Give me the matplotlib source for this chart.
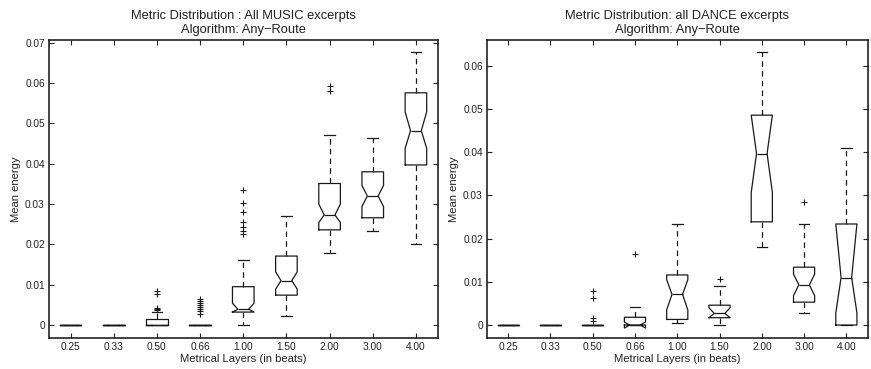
import matplotlib
matplotlib.use("Agg")
import matplotlib.pyplot as plt

plt.rcParams['font.family'] = ['Liberation Sans', 'DejaVu Sans']
plt.rcParams['lines.scale_dashes'] = False

labels = ['0.25', '0.33', '0.50', '0.66', '1.00', '1.50', '2.00', '3.00', '4.00']

# MUSIC excerpts
music_med = [0, 0, 0, 0, 0.0039, 0.0110, 0.0273, 0.0320, 0.0482]
music_q1 = [0, 0, 0, 0, 0.0032, 0.0074, 0.0236, 0.0266, 0.0397]
music_q3 = [0, 0, 0.0014, 0, 0.0095, 0.0171, 0.0351, 0.0380, 0.0576]
music_whislo = [0, 0, 0, 0, 0, 0.0022, 0.0178, 0.0233, 0.0201]
music_whishi = [0, 0, 0.0033, 0, 0.0161, 0.0270, 0.0471, 0.0465, 0.0676]
music_cilo = [0, 0, 0, 0, 0.0032, 0.0089, 0.0254, 0.0294, 0.0438]
music_cihi = [0, 0, 0, 0, 0.0054, 0.0132, 0.0300, 0.0346, 0.0529]
music_fliers = [
    [], [],
    [0.0037, 0.0039, 0.0041, 0.0078, 0.0085],
    [0.0028, 0.0034, 0.0040, 0.0045, 0.0050, 0.0055, 0.0060, 0.0064],
    [0.0225, 0.0232, 0.0244, 0.0256, 0.0281, 0.0303, 0.0335],
    [],
    [0.0580, 0.0594],
    [], [],
]

# DANCE excerpts
dance_med = [0, 0, 0, 0, 0.0071, 0.0027, 0.0397, 0.0093, 0.0110]
dance_q1 = [0, 0, 0, 0, 0.0013, 0.0017, 0.0239, 0.0053, 0]
dance_q3 = [0, 0, 0, 0.0018, 0.0116, 0.0046, 0.0486, 0.0134, 0.0234]
dance_whislo = [0, 0, 0, 0, 0.0005, 0, 0.0180, 0.0027, 0]
dance_whishi = [0, 0, 0, 0.0042, 0.0235, 0.0090, 0.0632, 0.0235, 0.0410]
dance_cilo = [0, 0, 0, -0.0007, 0.0035, 0.0017, 0.0307, 0.0068, 0.0028]
dance_cihi = [0, 0, 0, 0.0007, 0.0105, 0.0040, 0.0486, 0.0118, 0.0234]
dance_fliers = [
    [], [],
    [0.0010, 0.0016, 0.0062, 0.0079],
    [0.0164],
    [],
    [0.0106],
    [],
    [0.0285],
    [],
]


def make_stats(med, q1, q3, lo, hi, cilo, cihi, fliers):
    return [dict(med=med[i], q1=q1[i], q3=q3[i], whislo=lo[i], whishi=hi[i],
                 cilo=cilo[i], cihi=cihi[i], fliers=fliers[i], label=labels[i])
            for i in range(len(labels))]


fig = plt.figure(figsize=(8.71, 3.69), dpi=100)
ax1 = fig.add_axes([49 / 871, 1 - 338 / 369, 388.5 / 871, 298 / 369])
ax2 = fig.add_axes([487 / 871, 1 - 338 / 369, 380.5 / 871, 298 / 369])

lc = '#1a1a1a'
boxprops = dict(color=lc, linewidth=0.9)
whiskerprops = dict(color=lc, linewidth=0.9, linestyle=(0, (4, 3)))
capprops = dict(color=lc, linewidth=0.9)
medianprops = dict(color=lc, linewidth=0.9)
flierprops = dict(marker='+', markeredgecolor=lc, markersize=5, markeredgewidth=0.8, linestyle='none')

panels = [
    (ax1, make_stats(music_med, music_q1, music_q3, music_whislo, music_whishi,
                     music_cilo, music_cihi, music_fliers),
     'Metric Distribution : All MUSIC excerpts\nAlgorithm: Any\u2212Route',
     (-0.00323, 0.0707), [0, 0.01, 0.02, 0.03, 0.04, 0.05, 0.06, 0.07]),
    (ax2, make_stats(dance_med, dance_q1, dance_q3, dance_whislo, dance_whishi,
                     dance_cilo, dance_cihi, dance_fliers),
     'Metric Distribution: all DANCE excerpts\nAlgorithm: Any\u2212Route',
     (-0.0030, 0.0660), [0, 0.01, 0.02, 0.03, 0.04, 0.05, 0.06]),
]

for ax, stats, title, ylim, yticks in panels:
    ax.bxp(stats, positions=range(1, 10), widths=0.5, capwidths=0.25, shownotches=True,
           boxprops=boxprops, whiskerprops=whiskerprops, capprops=capprops,
           medianprops=medianprops, flierprops=flierprops)
    ax.set_xlim(0.5, 9.5)
    ax.set_ylim(*ylim)
    ax.set_yticks(yticks)
    ax.set_yticklabels(['0'] + ['%.2f' % v for v in yticks[1:]])
    ax.set_xticks(range(1, 10))
    ax.set_xticklabels(labels)
    ax.tick_params(direction='in', length=3.5, width=0.8, labelsize=7.3, colors='#222222',
                   top=True, right=True, pad=3)
    for s in ax.spines.values():
        s.set_linewidth(1.2)
        s.set_color('#222222')
    ax.set_title(title, fontsize=9.3, pad=5, color='#222222', linespacing=1.2)
    ax.set_xlabel('Metrical Layers (in beats)', fontsize=8.1, labelpad=1, color='#222222')
    ax.set_ylabel('Mean energy', fontsize=8.1, labelpad=3, color='#222222')

fig.savefig('out.png', dpi=100)
